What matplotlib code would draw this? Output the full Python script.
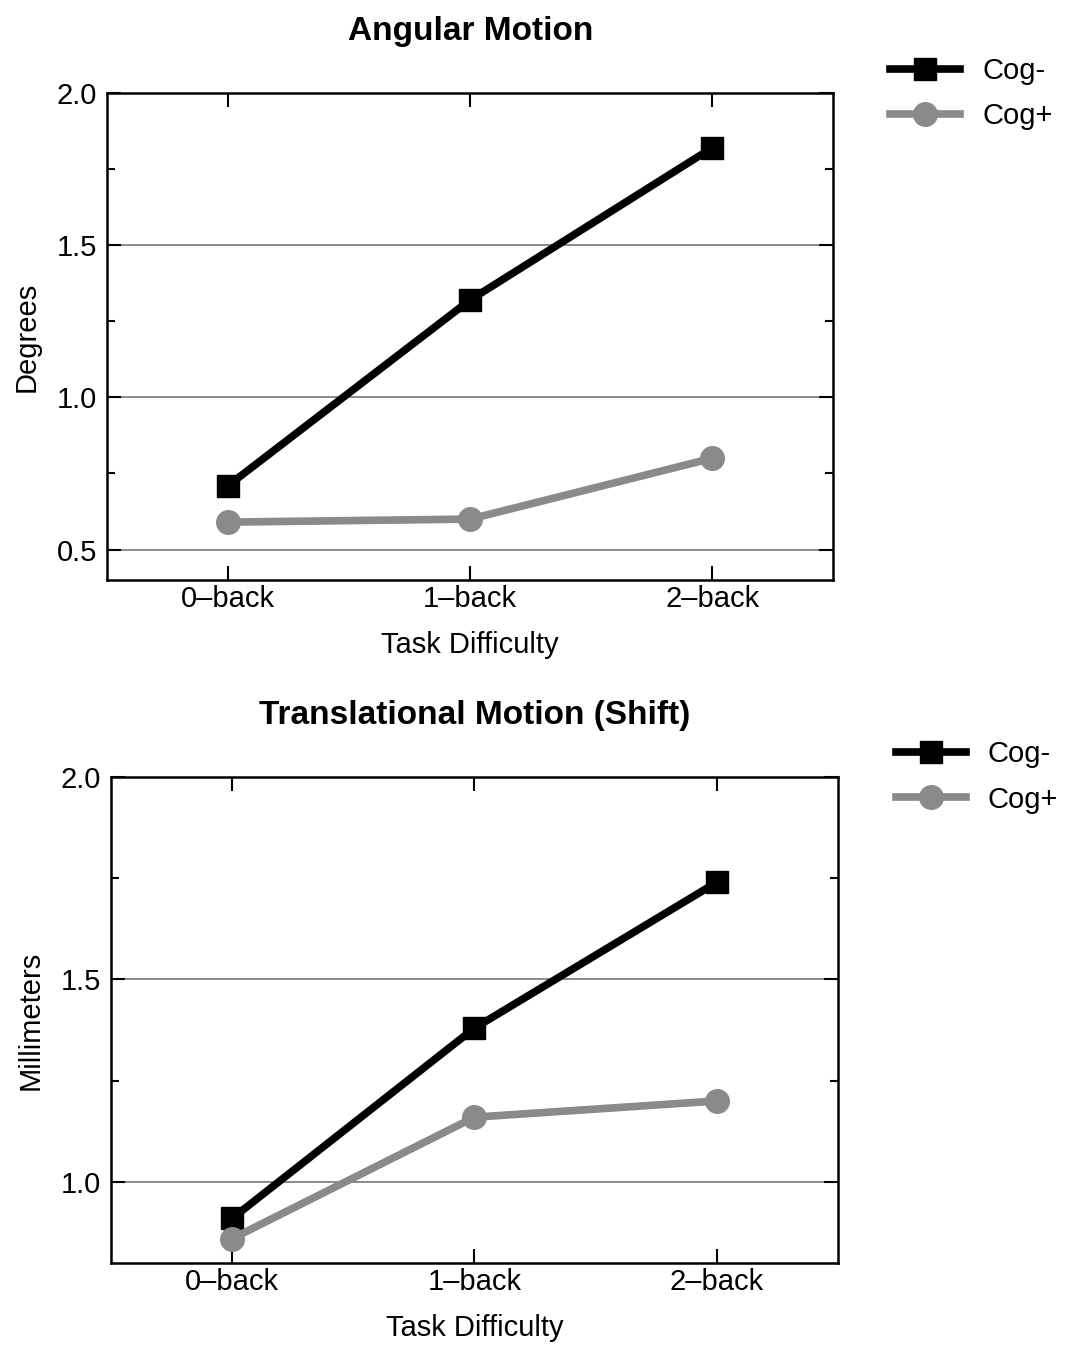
import matplotlib.pyplot as plt
import numpy as np
from matplotlib.ticker import MultipleLocator

plt.rcParams['font.family'] = ['Liberation Sans', 'DejaVu Sans']

label = ['0\u2013back', '1\u2013back', '2\u2013back']
ang_minus = [0.71, 1.32, 1.82]
ang_plus = [0.59, 0.60, 0.80]
trans_minus = [0.91, 1.38, 1.74]
trans_plus = [0.86, 1.16, 1.20]

fig = plt.figure(figsize=(10.65, 13.45), dpi=100)
ax1 = fig.add_axes([0.1005, 0.5688, 0.682, 0.3621])
ax2 = fig.add_axes([0.1042, 0.0610, 0.6826, 0.3613])


def panel(ax, minus, plus, title, ylabel, ylim, leg_x, leg_y):
    index = np.arange(len(label))
    ax.plot(index, minus, color='black', lw=5.5, marker='s', ms=16, label='Cog-', zorder=3)
    ax.plot(index, plus, color='#8a8a8a', lw=5.5, marker='o', ms=17, label='Cog+', zorder=3)
    ax.set_xlim(-0.5, 2.5)
    ax.set_ylim(*ylim)
    ax.set_xticks(index)
    ax.set_xticklabels(label, fontsize=21)
    ax.yaxis.set_major_locator(MultipleLocator(0.5))
    ax.yaxis.set_minor_locator(MultipleLocator(0.25))
    ax.yaxis.set_major_formatter(plt.FormatStrFormatter('%.1f'))
    ax.tick_params(axis='both', which='both', direction='in', top=True, right=True, labelsize=21, width=1.5)
    ax.tick_params(axis='both', which='major', length=10)
    ax.tick_params(axis='both', which='minor', length=6)
    ax.tick_params(axis='y', which='major', pad=7)
    ax.grid(axis='y', which='major', color='#777777', lw=1.2)
    ax.set_axisbelow(True)
    for s in ax.spines.values():
        s.set_linewidth(1.8)
    ax.set_title(title, fontsize=24, fontweight='bold', pad=38)
    ax.set_xlabel('Task Difficulty', fontsize=21, labelpad=13)
    ax.set_ylabel(ylabel, fontsize=21, labelpad=12)
    ax.legend(loc='upper left', bbox_to_anchor=(leg_x, leg_y), frameon=False, fontsize=21,
              handlelength=2.4, handletextpad=0.75, labelspacing=0.6,
              borderpad=0, borderaxespad=0)


panel(ax1, ang_minus, ang_plus, 'Angular Motion', 'Degrees', (0.4, 2.0), 1.0785, 1.074)
panel(ax2, trans_minus, trans_plus, 'Translational Motion (Shift)', 'Millimeters', (0.8, 2.0), 1.08, 1.076)

plt.savefig('out.png', format='png')
